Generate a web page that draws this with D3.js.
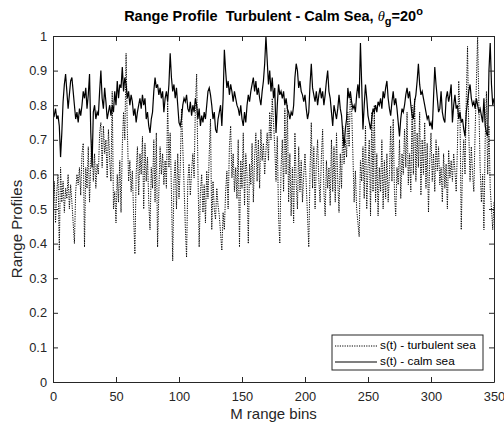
<!DOCTYPE html>
<html><head><meta charset="utf-8">
<script src="https://cdn.jsdelivr.net/npm/d3@7"></script>
<style>
body{margin:0;background:#fff}
svg{display:block}
text{font-family:"Liberation Sans",Arial,Helvetica,sans-serif}
</style>
</head><body>
<svg id="c" width="504" height="423"></svg>
<script>
// ---- data ----
const bins = d3.range(0, 351);

const turbulent = [
0.48,0.58,0.46,0.55,0.60,0.38,0.62,0.52,0.58,0.49,0.56,0.53,0.60,0.50,0.57,0.52,0.46,0.40,0.55,0.60,
0.57,0.62,0.54,0.66,0.69,0.39,0.62,0.56,0.68,0.52,0.64,0.70,0.58,0.66,0.56,0.63,0.60,0.72,0.75,0.62,
0.74,0.66,0.70,0.59,0.73,0.64,
0.58,0.84,0.50,0.55,0.46,0.60,0.52,0.64,0.49,0.68,0.78,0.70,0.95,0.73,0.58,0.64,0.55,0.61,0.48,0.37,
0.60,0.68,0.54,0.66,0.60,0.71,0.50,0.69,0.58,0.65,0.52,0.44,0.62,0.56,0.70,0.52,0.72,0.39,0.55,0.68,
0.60,0.66,0.57,0.64,
0.56,0.81,0.62,0.72,0.55,0.35,0.58,0.64,0.50,0.66,0.53,0.62,0.79,0.68,0.57,0.45,0.36,0.58,0.63,0.54,
0.61,0.66,0.59,0.80,0.89,0.62,0.39,0.55,0.60,0.49,0.57,0.46,0.61,0.53,0.66,0.76,0.44,0.58,0.50,0.47,
0.56,0.51,0.48,
0.43,0.38,0.49,0.44,0.55,0.61,0.50,0.68,0.74,0.59,0.66,0.55,0.62,0.53,0.70,0.39,0.64,0.56,0.72,0.51,
0.66,0.60,0.40,0.63,0.57,0.69,0.52,0.65,0.72,0.58,0.70,0.56,0.73,0.64,0.69,0.60,0.67,0.72,0.64,0.78,
0.70,0.82,0.75,0.68,
0.58,0.71,0.48,0.40,0.62,0.70,0.55,0.79,0.60,0.80,0.52,0.66,0.48,0.62,0.46,0.72,0.58,0.50,0.68,0.55,
0.64,0.52,0.60,0.66,0.57,0.48,0.39,0.61,0.75,0.56,0.68,0.50,0.63,0.70,0.58,0.52,0.65,0.73,0.55,0.48,
0.64,0.56,0.62,0.51,
0.70,0.55,0.68,0.52,0.72,0.58,0.49,0.66,0.56,0.74,0.63,0.70,0.65,0.78,0.68,0.83,0.79,0.66,0.52,0.61,
0.50,0.46,0.42,0.64,0.58,0.68,0.53,0.74,0.50,0.62,0.70,0.48,0.78,0.55,0.80,0.52,0.66,0.48,0.62,0.55,
0.70,0.50,0.64,
0.53,0.66,0.52,0.60,0.74,0.58,0.76,0.55,0.48,0.62,0.57,0.70,0.53,0.66,0.60,0.73,0.62,0.78,0.57,0.66,
0.55,0.80,0.60,0.82,0.58,0.72,0.62,0.78,0.54,0.70,0.60,0.75,0.56,0.69,0.49,0.64,0.72,0.58,0.66,0.55,
0.70,0.61,0.68,0.57,
0.62,0.52,0.66,0.56,0.63,0.50,0.67,0.59,0.64,0.58,0.66,0.61,0.55,0.68,0.87,0.78,0.44,0.62,0.70,0.60,
0.82,0.97,0.72,0.58,0.68,0.60,0.55,0.72,0.86,1.00,0.80,0.62,0.52,0.60,0.44,0.70,0.84,0.60,0.74,0.56,
0.50,0.44,0.52
];

const calm = [
0.78,0.77,0.79,0.76,0.77,0.74,0.65,0.72,0.81,0.86,0.89,0.84,0.79,0.83,0.87,0.88,0.84,0.80,0.76,0.78,
0.75,0.79,0.77,0.80,0.84,0.82,0.85,0.79,0.83,0.89,0.72,0.62,0.78,0.80,0.76,0.78,0.77,0.84,0.90,0.82,
0.79,0.85,0.81,0.76,0.78,0.80,
0.77,0.80,0.78,0.84,0.80,0.87,0.82,0.86,0.85,0.91,0.84,0.88,0.86,0.82,0.84,0.80,0.83,0.81,0.77,0.79,
0.75,0.78,0.80,0.82,0.79,0.83,0.80,0.82,0.76,0.78,0.74,0.72,0.76,0.78,0.84,0.88,0.85,0.86,0.83,0.85,
0.82,0.84,0.78,0.82,
0.84,0.81,0.86,0.95,0.88,0.84,0.86,0.82,0.85,0.80,0.75,0.74,0.76,0.80,0.82,0.81,0.83,0.79,0.78,0.81,
0.77,0.80,0.78,0.82,0.80,0.76,0.79,0.74,0.77,0.75,0.78,0.76,0.80,0.84,0.85,0.83,0.80,0.76,0.78,0.73,
0.72,0.76,0.78,
0.80,0.74,0.82,0.96,0.90,0.85,0.87,0.83,0.86,0.84,0.81,0.84,0.82,0.80,0.79,0.77,0.80,0.76,0.74,0.78,
0.75,0.80,0.83,0.81,0.84,0.86,0.88,0.84,0.87,0.83,0.85,0.82,0.80,0.84,0.87,0.92,1.00,0.93,0.86,0.90,
0.84,0.88,0.82,0.85,
0.72,0.80,0.86,0.83,0.84,0.82,0.84,0.80,0.82,0.79,0.78,0.76,0.78,0.77,0.80,0.88,0.92,0.90,0.85,0.87,
0.84,0.83,0.81,0.83,0.79,0.76,0.78,0.86,0.92,0.85,0.83,0.81,0.84,0.80,0.83,0.85,0.82,0.84,0.80,0.83,
0.87,0.90,0.84,0.82,
0.78,0.74,0.80,0.78,0.76,0.79,0.83,0.79,0.77,0.72,0.68,0.73,0.76,0.85,0.82,0.84,0.81,0.79,0.80,0.78,
0.83,0.86,0.82,0.98,0.86,0.73,0.80,0.86,0.82,0.77,0.75,0.73,0.76,0.79,0.78,0.80,0.78,0.81,0.80,0.82,
0.79,0.84,0.82,
0.85,0.87,0.82,0.79,0.77,0.81,0.84,0.80,0.82,0.79,0.75,0.71,0.76,0.79,0.78,0.80,0.83,0.85,0.82,0.84,
0.80,0.77,0.76,0.81,0.83,0.87,0.92,0.86,0.83,0.84,0.82,0.80,0.78,0.76,0.77,0.74,0.75,0.73,0.82,0.91,
0.86,0.82,0.78,0.79,
0.84,0.78,0.76,0.75,0.82,0.84,0.81,0.83,0.86,0.75,0.80,0.83,0.79,0.80,0.76,0.78,0.75,0.76,0.73,0.71,
0.78,0.81,0.84,0.86,0.82,0.80,0.81,0.79,0.82,0.80,0.78,0.79,0.77,0.75,0.82,0.74,0.72,0.71,0.90,0.98,
0.86,0.80,0.82
];

const xTicks = [0,50,100,150,200,250,300,350];
const yTicks = [0,0.1,0.2,0.3,0.4,0.5,0.6,0.7,0.8,0.9,1];
const seriesNames = ["s(t) - turbulent sea", "s(t) - calm sea"];

// ---- layout ----
const L = 53, R = 494, T = 36, B = 382;
const svg = d3.select("#c");
const x = d3.scaleLinear().domain([0,350]).range([L,R]);
const y = d3.scaleLinear().domain([0,1]).range([B,T]);
const axisColor = "#262626";

svg.append("rect").attr("x",L).attr("y",T).attr("width",R-L).attr("height",B-T).attr("fill","#fff");

const line = d3.line().x((d,i)=>x(bins[i])).y(d=>y(d));
svg.append("clipPath").attr("id","pc").append("rect")
  .attr("x",L).attr("y",T-1).attr("width",R-L).attr("height",B-T+2);

const g = svg.append("g").attr("clip-path","url(#pc)");
g.append("path").datum(turbulent.slice(0,bins.length)).attr("d",line)
  .attr("fill","none").attr("stroke","#000").attr("stroke-width",1)
  .attr("stroke-dasharray","1.2,1.2");
g.append("path").datum(calm.slice(0,bins.length)).attr("d",line)
  .attr("fill","none").attr("stroke","#000").attr("stroke-width",1.2);

function styleAxis(sel, labels){
  sel.selectAll("path").attr("stroke",axisColor);
  sel.selectAll("line").attr("stroke",axisColor);
  sel.selectAll("text").attr("fill",axisColor).style("font-size","12.8px");
  if(!labels) sel.selectAll("text").remove();
}
const fmtY = d => d===0?"0":(d===1?"1":d3.format(".1f")(d));

svg.append("g").attr("transform",`translate(0,${B})`)
  .call(d3.axisBottom(x).tickValues(xTicks).tickSizeInner(-5).tickSizeOuter(0).tickPadding(10))
  .call(s=>styleAxis(s,true));
svg.append("g").attr("transform",`translate(0,${T})`)
  .call(d3.axisTop(x).tickValues(xTicks).tickSizeInner(-5).tickSizeOuter(0))
  .call(s=>styleAxis(s,false));
svg.append("g").attr("transform",`translate(${L},0)`)
  .call(d3.axisLeft(y).tickValues(yTicks).tickFormat(fmtY).tickSizeInner(-5).tickSizeOuter(0).tickPadding(6))
  .call(s=>styleAxis(s,true));
svg.append("g").attr("transform",`translate(${R},0)`)
  .call(d3.axisRight(y).tickValues(yTicks).tickSizeInner(-5).tickSizeOuter(0))
  .call(s=>styleAxis(s,false));

// ---- labels ----
svg.append("text").attr("x",(L+R)/2).attr("y",415).attr("text-anchor","middle")
  .attr("dominant-baseline","middle").style("font-size","15px").attr("fill",axisColor).text("M range bins");
svg.append("text").attr("transform","translate(18,229) rotate(-90)").attr("text-anchor","middle")
  .attr("dominant-baseline","middle").style("font-size","15px").attr("fill",axisColor).text("Range Profiles");

const title = svg.append("text").attr("x",(L+R)/2).attr("y",21).attr("text-anchor","middle")
  .style("font-size","14.5px").style("font-weight","bold").style("white-space","pre").attr("fill","#000");
title.append("tspan").text("Range Profile  Turbulent - Calm Sea, ");
title.append("tspan").style("font-style","italic").style("font-weight","normal").style("font-family","'Liberation Serif','Times New Roman',serif").text("θ");
title.append("tspan").attr("dy",4).style("font-size","11px").text("g");
title.append("tspan").attr("dy",-4).text("=20");
title.append("tspan").attr("dy",-6).style("font-size","11px").text("o");

// ---- legend ----
const lg = svg.append("g");
lg.append("rect").attr("x",332).attr("y",335).attr("width",151).attr("height",35)
  .attr("fill","#fff").attr("stroke",axisColor).attr("stroke-width",1);
const rows = [{name:seriesNames[0], dash:"1.2,1.2", w:1, yy:346},{name:seriesNames[1], dash:null, w:1.2, yy:362}];
rows.forEach(r=>{
  lg.append("line").attr("x1",335).attr("x2",377).attr("y1",r.yy).attr("y2",r.yy)
    .attr("stroke","#000").attr("stroke-width",r.w).attr("stroke-dasharray",r.dash);
  lg.append("text").attr("x",380).attr("y",r.yy).attr("dominant-baseline","middle")
    .style("font-size","11.8px").attr("fill","#000").text(r.name);
});
</script>
</body></html>
